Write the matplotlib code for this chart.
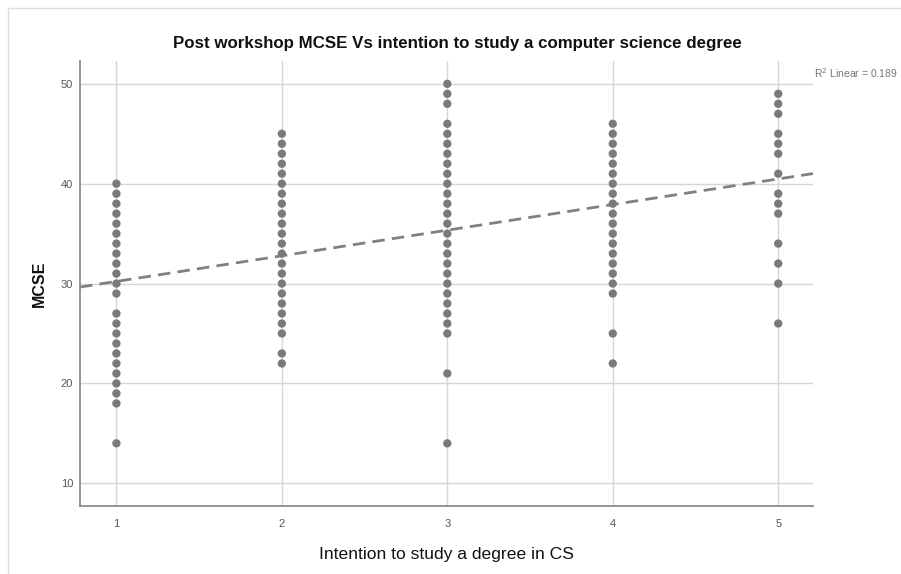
import matplotlib.pyplot as plt
import matplotlib.patches as mpatches
import numpy as np

plt.rcParams['font.family'] = ['Liberation Sans', 'DejaVu Sans']

# distinct MCSE scores observed at each intention level
mcse_1 = [40, 39, 38, 37, 36, 35, 34, 33, 32, 31, 30, 29,
          27, 26, 25, 24, 23, 22, 21, 20, 19, 18, 14]
mcse_2 = list(range(45, 24, -1)) + [23, 22]
mcse_3 = [50, 49, 48] + list(range(46, 24, -1)) + [21, 14]
mcse_4 = list(range(46, 28, -1)) + [25, 22]
mcse_5 = [49, 48, 47, 45, 44, 43, 41, 39, 38, 37, 34, 32, 30, 26]
intention_levels = [1, 2, 3, 4, 5]

# linear fit
fit_intercept = 27.65
fit_slope = 2.565
r_squared = 0.189

title = "Post workshop MCSE Vs intention to study a computer science degree"
xlabel = "Intention to study a degree in CS"
ylabel = "MCSE"

fig = plt.figure(figsize=(9.01, 5.74), dpi=100)
ax = fig.add_axes([0.0888, 0.118, 0.8135, 0.776])

dot_color = "#7a7a7a"
for lvl, vals in zip(intention_levels, [mcse_1, mcse_2, mcse_3, mcse_4, mcse_5]):
    ax.scatter([lvl] * len(vals), vals, s=36, color=dot_color,
               edgecolors="none", zorder=3)

ax.set_xlim(0.78, 5.21)
ax.set_ylim(7.7, 52.3)
xs = np.array(ax.get_xlim())
ax.plot(xs, fit_intercept + fit_slope * xs, color="#808080", lw=2.0,
        dashes=(4.5, 2.6), zorder=2)

ax.set_xticks(intention_levels)
ax.set_yticks([10, 20, 30, 40, 50])
ax.grid(True, color="#d6d6d6", lw=1.0)
ax.set_axisbelow(True)
for side in ["top", "right"]:
    ax.spines[side].set_visible(False)
for side in ["left", "bottom"]:
    ax.spines[side].set_color("#8c8c8c")
    ax.spines[side].set_linewidth(1.3)
ax.tick_params(axis="both", labelsize=8, colors="#555555", length=0)
ax.tick_params(axis="x", pad=9)
ax.tick_params(axis="y", pad=5)

fig.text(0.508, 0.925, title, fontsize=12.2, fontweight="bold",
         color="#111111", ha="center", va="center")
ax.set_xlabel(xlabel, fontsize=12.6, labelpad=13, color="#111111")
ax.set_ylabel(ylabel, fontsize=11.5, fontweight="bold", labelpad=10, color="#111111")

fig.text(0.903, 0.872, "R$^2$ Linear = %.3f" % r_squared, fontsize=7.5,
         color="#777777", va="center", ha="left")

# light frame around the chart area
fig.patches.append(mpatches.Rectangle((0.009, -0.01), 1.0, 0.996,
                                      transform=fig.transFigure,
                                      fill=False, edgecolor="#dddddd", lw=1.0))

fig.savefig("out.png", dpi=100)
